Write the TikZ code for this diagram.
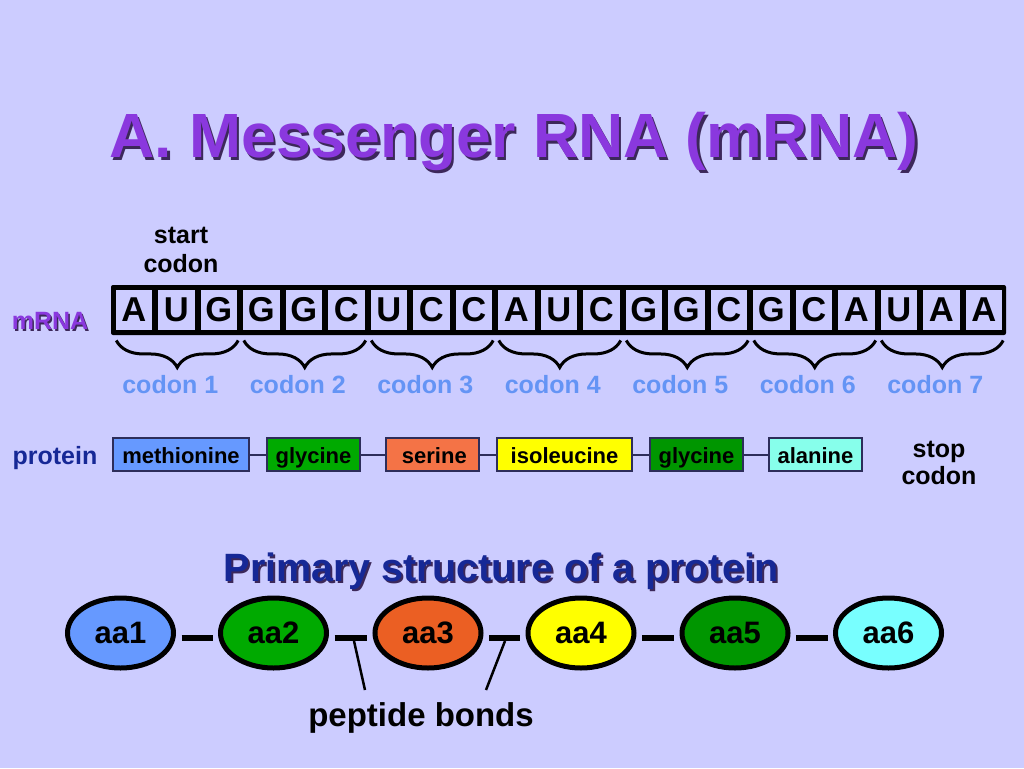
\documentclass[tikz,border=0pt]{standalone}
\usepackage{fontspec}
\setmainfont{Liberation Sans}
\usetikzlibrary{decorations.pathreplacing,shapes.geometric,calc}
\definecolor{bg}{RGB}{204,204,255}
\definecolor{titlec}{RGB}{138,56,222}
\definecolor{shadowc}{RGB}{60,40,90}
\definecolor{navy}{RGB}{22,40,150}
\definecolor{codonc}{RGB}{100,148,245}
\definecolor{linec}{RGB}{45,45,90}
\definecolor{cblue}{RGB}{102,153,255}
\definecolor{cgreen}{RGB}{0,170,0}
\definecolor{cgreenb}{RGB}{0,150,0}
\definecolor{corange}{RGB}{244,115,70}
\definecolor{corangeb}{RGB}{235,95,35}
\definecolor{cyellow}{RGB}{255,255,0}
\definecolor{ccyan}{RGB}{135,255,235}
\definecolor{ccyanb}{RGB}{120,255,255}
\begin{document}
\begin{tikzpicture}[x=1pt,y=-1pt,
  txt/.style={font=\bfseries\fontsize{25}{28}\selectfont, inner sep=0pt},
  cell/.style={fill=bg, minimum width=36.5pt, minimum height=40.5pt, inner sep=0pt,
    font=\bfseries\fontsize{34.5}{38}\selectfont},
  codonbrace/.style={decorate, decoration={brace, amplitude=27pt}, line width=3pt},
  codonlbl/.style={txt, text=codonc},
  pbox/.style={draw=linec, line width=1.3pt, minimum height=33pt, inner sep=0pt,
    font=\bfseries\fontsize{22}{24}\selectfont, text height=18pt, text depth=0pt},
  plink/.style={draw=linec, line width=2pt},
  aa/.style={ellipse, draw=black, line width=5pt, minimum width=106pt, minimum height=70pt,
    inner sep=0pt, font=\bfseries\fontsize{31}{33}\selectfont},
  bond/.style={line width=6pt, shorten >=5.5pt, shorten <=5.5pt},
  pointer/.style={line width=2.5pt}
]
\fill[bg] (0,0) rectangle (1024,768);
\useasboundingbox (0,0) rectangle (1024,768);

% title
\begin{scope}[yscale=1.06]
\node[anchor=base, font=\bfseries\fontsize{62.5}{70}\selectfont, text=shadowc, inner sep=0pt] (titles) at (516.5,151) {A. Messenger RNA (mRNA)};
\node[anchor=base, font=\bfseries\fontsize{62.5}{70}\selectfont, text=titlec, inner sep=0pt] (title) at (514,149) {A. Messenger RNA (mRNA)};
\end{scope}

% start codon
\node[txt, align=center, font=\bfseries\fontsize{25}{29}\selectfont] (start) at (181,250) {start\\codon};

% mRNA label
\node[txt, text=shadowc] (mrnas) at (51.5,322.5) {mRNA};
\node[txt, text=titlec] (mrna) at (50,321) {mRNA};

% strip
\fill[black, rounded corners=2pt] (111,285) rectangle (1006,335);
\foreach \l [count=\i] in {A,U,G,G,G,C,U,C,C,A,U,C,G,G,C,G,C,A,U,A,A} {
  \node[cell] (c\i) at ({112.5+42.5*(\i-0.5)},310) {\l};
}

% braces and codon labels
\foreach \k in {1,...,7} {
  \pgfmathtruncatemacro{\a}{3*\k-2}
  \pgfmathtruncatemacro{\b}{3*\k}
  \draw[codonbrace] ($(c\b.south east)+(1,10)$) -- ($(c\a.south west)+(1,10)$);
  \node[codonlbl] (cl\k) at ($(c\a.south west)!0.5!(c\b.south east)+(-6,54)$) {codon \k};
}

% protein row
\node[txt, text=navy] (protein) at (55,458) {protein};
\node[pbox, fill=cblue, minimum width=136pt] (p1) at (181,454.5) {methionine};
\node[pbox, fill=cgreen, minimum width=93pt] (p2) at (313.5,454.5) {glycine};
\node[pbox, fill=corange, minimum width=93pt] (p3) at (432.5,454.5) {\,serine};
\node[pbox, fill=cyellow, minimum width=135pt] (p4) at (564.5,454.5) {isoleucine};
\node[pbox, fill=cgreenb, minimum width=93pt] (p5) at (696.5,454.5) {glycine};
\node[pbox, fill=ccyan, minimum width=93pt] (p6) at (815.5,454.5) {alanine};
\foreach \i/\j in {1/2,2/3,3/4,4/5,5/6} { \draw[plink] (p\i) -- (p\j); }
\node[txt, align=center, font=\bfseries\fontsize{25}{27}\selectfont] (stop) at (939,463) {stop\\codon};

% primary structure
\node[anchor=base, font=\bfseries\fontsize{39.5}{42}\selectfont, text=shadowc, inner sep=0pt] (prims) at (503.5,583) {Primary structure of a protein};
\node[anchor=base, font=\bfseries\fontsize{39.5}{42}\selectfont, text=navy, inner sep=0pt] (prim) at (501.5,581) {Primary structure of a protein};

% amino acids
\node[aa, fill=cblue] (aa1) at (120.5,633) {aa1};
\node[aa, fill=cgreen] (aa2) at (273.5,633) {aa2};
\node[aa, fill=corangeb] (aa3) at (428,633) {aa3};
\node[aa, fill=cyellow] (aa4) at (581,633) {aa4};
\node[aa, fill=cgreenb] (aa5) at (735,633) {aa5};
\node[aa, fill=ccyanb] (aa6) at (888.5,633) {aa6};
\foreach \i/\j in {1/2,2/3,3/4,4/5,5/6} { \draw[bond] ([yshift=-5pt]aa\i.east) -- ([yshift=-5pt]aa\j.west); }

% peptide bonds
\node[anchor=base, font=\bfseries\fontsize{33}{36}\selectfont, inner sep=0pt] (pb) at (421,726) {peptide bonds};
\coordinate (b1) at (354,641);
\coordinate (b1e) at (365,690);
\coordinate (b2) at (505,641);
\coordinate (b2e) at (486,690);
\draw[pointer] (b1) -- (b1e);
\draw[pointer] (b2) -- (b2e);
\end{tikzpicture}
\end{document}
